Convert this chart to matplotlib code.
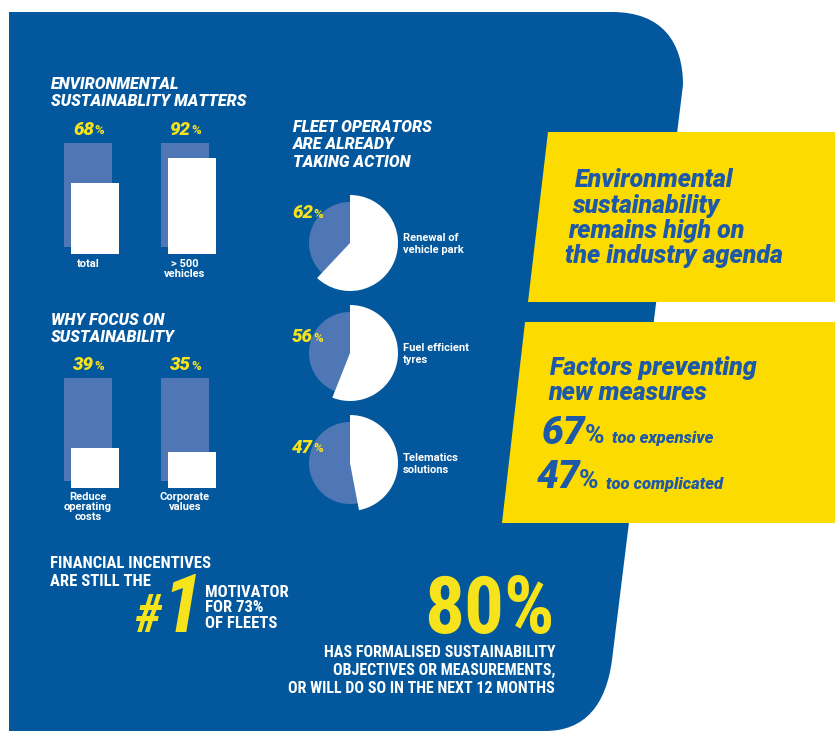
import matplotlib
matplotlib.use("Agg")
import matplotlib.pyplot as plt
from matplotlib.patches import Polygon, Wedge, Circle, PathPatch
from matplotlib.path import Path
from matplotlib import font_manager

# ---------------- data ----------------
env_labels = ["total", "> 500\nvehicles"]
env_values = [68, 92]
why_labels = ["Reduce\noperating\ncosts", "Corporate\nvalues"]
why_values = [39, 35]
action_labels = ["Renewal of\nvehicle park", "Fuel efficient\ntyres", "Telematics\nsolutions"]
action_values = [62, 56, 47]
barrier_labels = ["too expensive", "too complicated"]
barrier_values = [67, 47]
motivator_rank = 1
motivator_share = 73
formalised_share = 80

# ---------------- style ----------------
BLUE = "#03589D"
BACK = "#5077B5"
YEL_TXT = "#F7E31B"
YEL_BOX = "#FCDB00"
BOX_TXT = "#1E58A8"
WHITE = "#FFFFFF"
HEAVY = ["Roboto", "DejaVu Sans"]

_names = {f.name for f in font_manager.fontManager.ttflist}
NARROW = [n for n in ["Roboto Condensed", "Open Sans Condensed", "Liberation Sans Narrow",
                      "Barlow Condensed", "DejaVu Sans Condensed"] if n in _names] + ["Roboto"]
HAS_NARROW = NARROW[0] != "Roboto"

fig = plt.figure(figsize=(8.35, 7.31), dpi=100)
ax = fig.add_axes([0, 0, 1, 1])
ax.set_xlim(0, 835)
ax.set_ylim(731, 0)
ax.axis("off")

# blue background shape
verts = [(9, 12), (612, 12), (662, 12), (683, 42), (683, 85), (612, 660),
         (606, 705), (585, 731), (545, 731), (9, 731), (9, 12)]
codes = [Path.MOVETO, Path.LINETO, Path.CURVE4, Path.CURVE4, Path.CURVE4, Path.LINETO,
         Path.CURVE4, Path.CURVE4, Path.CURVE4, Path.LINETO, Path.CLOSEPOLY]
ax.add_patch(PathPatch(Path(verts, codes), facecolor=BLUE, edgecolor="none", zorder=1))

# yellow boxes
ax.add_patch(Polygon([(548, 132), (835, 132), (835, 302), (528, 302)], closed=True,
                     facecolor=YEL_BOX, edgecolor="none", zorder=2))
ax.add_patch(Polygon([(525, 322), (835, 322), (835, 523), (502, 523)], closed=True,
                     facecolor=YEL_BOX, edgecolor="none", zorder=2))


def T(x, y, s, size, color=WHITE, weight="bold", style="normal", ha="left", va="center",
      family=HEAVY, **kw):
    ax.text(x, y, s, fontsize=size, color=color, fontweight=weight, fontstyle=style,
            ha=ha, va=va, family=family, zorder=5, **kw)


def pct(x_right, y, value, size=13.5):
    T(x_right, y, f"{value}", size, color=YEL_TXT, weight="heavy", style="italic", ha="right")
    T(x_right, y + 1, "%", size * 0.7, color=YEL_TXT, weight="bold", ha="left")


# ---------------- bar groups ----------------
def bar_group(title, title_y, labels, values, back_top, back_bottom, label_y):
    T(51, title_y, title, 11.5, weight="heavy", style="italic", va="top", linespacing=1.2)
    xs = [64, 161]
    full = back_bottom - back_top
    ax.bar(xs, [-full] * len(xs), bottom=back_bottom, width=48, align="edge",
           color=BACK, zorder=3)
    ax.bar([x + 7 for x in xs], [-v / 100 * full for v in values], bottom=back_bottom + 7,
           width=48, align="edge", color=WHITE, zorder=4)
    for x, v, lab in zip(xs, values, labels):
        pct(x + 30, back_top - 13, v)
        T(x + 24, label_y, lab, 8, ha="center", va="top", linespacing=1.0)


bar_group("ENVIRONMENTAL\nSUSTAINABLITY MATTERS", 77, env_labels, env_values, 143, 247, 259)
bar_group("WHY FOCUS ON\nSUSTAINABILITY", 313, why_labels, why_values, 378, 481, 492)

# ---------------- pies ----------------
T(293, 120, "FLEET OPERATORS\nARE ALREADY\nTAKING ACTION", 11.5, weight="heavy",
  style="italic", va="top", linespacing=1.2)
pie_y = [243, 353, 463]
pct_y = [213, 337, 448]
for cy, py, v, lab in zip(pie_y, pct_y, action_values, action_labels):
    ax.add_patch(Circle((350, cy), 41, facecolor=BACK, edgecolor="none", zorder=3))
    ax.add_patch(Wedge((350, cy), 48, -90, -90 + 360 * v / 100, facecolor=WHITE,
                       edgecolor="none", zorder=4))
    pct(313, py, v)
    T(403, cy + 1, lab, 8, va="center", linespacing=1.3)

# ---------------- yellow box texts ----------------
box1 = ["Environmental", "sustainability", "remains high on", "the industry agenda"]
for i, line in enumerate(box1):
    T(575 - 3.3 * i, 180 + 25.5 * i, line, 18, color=BOX_TXT, weight="heavy",
      style="italic")
for i, line in enumerate(["Factors preventing", "new measures"]):
    T(550 - 2 * i, 368 + 25 * i, line, 18, color=BOX_TXT, weight="heavy", style="italic")
for i, (v, lab) in enumerate(zip(barrier_values, barrier_labels)):
    x0 = 543 - 6 * i
    y0 = 433 + 45 * i
    T(x0 + 43, y0, f"{v}", 28, color=BOX_TXT, weight="heavy", style="italic", ha="right")
    T(x0 + 42, y0 + 3, "%", 19, color=BOX_TXT, weight="bold", ha="left")
    T(x0 + 69, y0 + 6, lab, 12, color=BOX_TXT, weight="heavy", style="italic")

# ---------------- bottom ----------------
s_small = 12 if HAS_NARROW else 9.5
T(50, 563, "FINANCIAL INCENTIVES", s_small, weight="bold", family=NARROW)
T(50, 582, "ARE STILL THE", s_small, weight="bold", family=NARROW)
T(161, 632, "#", 38 if HAS_NARROW else 30, color=YEL_TXT, weight="bold",
  style="italic", ha="right", va="baseline", family=NARROW)
T(162, 632, f"{motivator_rank}", 58 if HAS_NARROW else 48, color=YEL_TXT, weight="bold",
  style="italic", ha="left", va="baseline", family=NARROW)
T(205, 608, f"MOTIVATOR\nFOR {motivator_share}%\nOF FLEETS", s_small, weight="bold",
  family=NARROW, linespacing=1.05)
T(555, 612, f"{formalised_share}%", 57 if HAS_NARROW else 48, color=YEL_TXT, weight="bold",
  ha="right", family=NARROW)
T(555, 645, "HAS FORMALISED SUSTAINABILITY\nOBJECTIVES OR MEASUREMENTS,\n"
  "OR WILL DO SO IN THE NEXT 12 MONTHS", 11.5 if HAS_NARROW else 10, weight="bold",
  ha="right", va="top", family=NARROW, linespacing=1.25, multialignment="right")

fig.savefig("out.png", dpi=100)
